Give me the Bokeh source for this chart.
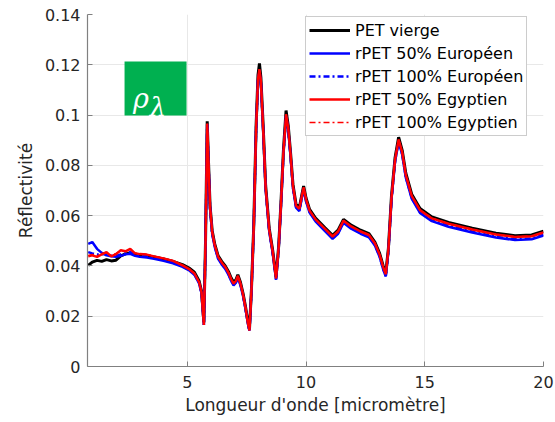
from bokeh.plotting import figure
from bokeh.models import Range1d, FixedTicker, BoxAnnotation, Label
from bokeh.embed import file_html
from bokeh.resources import INLINE

wavelength = [0.83, 1.0, 1.2, 1.4, 1.6, 1.8, 2.0, 2.2, 2.4, 2.6,
              2.8, 3.0, 3.3, 3.6, 4.0, 4.4, 4.8, 5.1, 5.3, 5.5,
              5.6, 5.7, 5.77, 5.84, 5.9, 5.96, 6.05, 6.15, 6.3, 6.45,
              6.6, 6.75, 6.85, 6.95, 7.05, 7.13, 7.24, 7.35, 7.45, 7.55,
              7.62, 7.7, 7.8, 7.9, 7.98, 8.04, 8.1, 8.2, 8.3, 8.45,
              8.6, 8.74, 8.85, 8.95, 9.05, 9.16, 9.25, 9.35, 9.45, 9.58,
              9.72, 9.82, 9.9, 10.0, 10.15, 10.4, 10.8, 11.12, 11.35, 11.58,
              11.9, 12.3, 12.65, 12.9, 13.1, 13.25, 13.36, 13.47, 13.6, 13.75,
              13.9, 14.05, 14.2, 14.45, 14.8, 15.3, 16.0, 17.0, 18.0, 18.8,
              19.5, 20.0]

pet_vierge = [0.0402, 0.0415, 0.0422, 0.0418, 0.0425, 0.0420, 0.0423, 0.0440, 0.0448, 0.0452,
              0.0445, 0.0442, 0.0440, 0.0436, 0.0428, 0.0418, 0.0405, 0.0390, 0.0375, 0.0340,
              0.0300, 0.0175, 0.0500, 0.0975, 0.0800, 0.0640, 0.0540, 0.0490, 0.0440, 0.0418,
              0.0400, 0.0375, 0.0352, 0.0335, 0.0345, 0.0365, 0.0335, 0.0290, 0.0240, 0.0180,
              0.0148, 0.0300, 0.0560, 0.0960, 0.1160, 0.1205, 0.1150, 0.0950, 0.0720, 0.0550,
              0.0460, 0.0355, 0.0480, 0.0660, 0.0860, 0.1018, 0.0960, 0.0850, 0.0725, 0.0645,
              0.0632, 0.0680, 0.0718, 0.0670, 0.0625, 0.0590, 0.0552, 0.0522, 0.0542, 0.0585,
              0.0562, 0.0542, 0.0528, 0.0495, 0.0450, 0.0400, 0.0372, 0.0470, 0.0680, 0.0830,
              0.0912, 0.0860, 0.0770, 0.0685, 0.0628, 0.0595, 0.0573, 0.0550, 0.0530, 0.0520,
              0.0523, 0.0538]

rpet50_eu = [0.0488, 0.0495, 0.0468, 0.0452, 0.0442, 0.0438, 0.0436, 0.0440, 0.0446, 0.0448,
             0.0440, 0.0436, 0.0433, 0.0428, 0.0420, 0.0410, 0.0396, 0.0381, 0.0365, 0.0330,
             0.0292, 0.0165, 0.0490, 0.0962, 0.0790, 0.0628, 0.0528, 0.0478, 0.0428, 0.0406,
             0.0388, 0.0362, 0.0340, 0.0322, 0.0333, 0.0353, 0.0323, 0.0280, 0.0230, 0.0172,
             0.0142, 0.0292, 0.0550, 0.0945, 0.1138, 0.1175, 0.1128, 0.0932, 0.0705, 0.0538,
             0.0448, 0.0345, 0.0470, 0.0648, 0.0842, 0.0995, 0.0942, 0.0835, 0.0710, 0.0632,
             0.0618, 0.0668, 0.0705, 0.0657, 0.0612, 0.0577, 0.0538, 0.0508, 0.0528, 0.0572,
             0.0548, 0.0528, 0.0514, 0.0481, 0.0436, 0.0386, 0.0358, 0.0458, 0.0665, 0.0815,
             0.0895, 0.0842, 0.0752, 0.0668, 0.0611, 0.0578, 0.0556, 0.0533, 0.0513, 0.0503,
             0.0506, 0.0521]

rpet100_eu = [0.0455, 0.0450, 0.0445, 0.0446, 0.0448, 0.0440, 0.0440, 0.0446, 0.0450, 0.0455,
              0.0444, 0.0440, 0.0438, 0.0432, 0.0424, 0.0414, 0.0399, 0.0383, 0.0367, 0.0332,
              0.0293, 0.0165, 0.0492, 0.0963, 0.0792, 0.0630, 0.0530, 0.0480, 0.0431, 0.0409,
              0.0391, 0.0365, 0.0343, 0.0325, 0.0336, 0.0356, 0.0326, 0.0282, 0.0232, 0.0173,
              0.0142, 0.0293, 0.0552, 0.0947, 0.1140, 0.1178, 0.1130, 0.0935, 0.0708, 0.0541,
              0.0451, 0.0347, 0.0472, 0.0651, 0.0845, 0.0998, 0.0945, 0.0838, 0.0713, 0.0635,
              0.0621, 0.0671, 0.0708, 0.0660, 0.0615, 0.0580, 0.0541, 0.0511, 0.0531, 0.0575,
              0.0551, 0.0531, 0.0517, 0.0484, 0.0439, 0.0389, 0.0361, 0.0460, 0.0667, 0.0817,
              0.0897, 0.0845, 0.0755, 0.0671, 0.0614, 0.0581, 0.0560, 0.0537, 0.0516, 0.0506,
              0.0509, 0.0524]

rpet50_eg = [0.0438, 0.0442, 0.0436, 0.0446, 0.0455, 0.0438, 0.0447, 0.0462, 0.0458, 0.0468,
             0.0450, 0.0447, 0.0445, 0.0438, 0.0430, 0.0420, 0.0402, 0.0386, 0.0370, 0.0335,
             0.0295, 0.0165, 0.0495, 0.0965, 0.0795, 0.0635, 0.0535, 0.0485, 0.0436, 0.0414,
             0.0396, 0.0370, 0.0347, 0.0330, 0.0340, 0.0360, 0.0330, 0.0285, 0.0235, 0.0175,
             0.0143, 0.0295, 0.0555, 0.0950, 0.1145, 0.1182, 0.1135, 0.0940, 0.0712, 0.0545,
             0.0455, 0.0350, 0.0475, 0.0655, 0.0850, 0.1002, 0.0950, 0.0842, 0.0718, 0.0640,
             0.0627, 0.0675, 0.0712, 0.0665, 0.0620, 0.0585, 0.0547, 0.0517, 0.0537, 0.0580,
             0.0557, 0.0537, 0.0523, 0.0490, 0.0445, 0.0395, 0.0367, 0.0465, 0.0672, 0.0822,
             0.0902, 0.0852, 0.0762, 0.0679, 0.0622, 0.0589, 0.0568, 0.0545, 0.0525, 0.0515,
             0.0518, 0.0533]

rpet100_eg = [0.0442, 0.0446, 0.0440, 0.0449, 0.0452, 0.0441, 0.0450, 0.0460, 0.0461, 0.0466,
              0.0451, 0.0448, 0.0446, 0.0439, 0.0431, 0.0421, 0.0403, 0.0387, 0.0371, 0.0336,
              0.0296, 0.0166, 0.0496, 0.0966, 0.0796, 0.0636, 0.0536, 0.0486, 0.0437, 0.0415,
              0.0397, 0.0371, 0.0348, 0.0331, 0.0341, 0.0361, 0.0331, 0.0286, 0.0236, 0.0176,
              0.0144, 0.0296, 0.0556, 0.0951, 0.1147, 0.1184, 0.1137, 0.0941, 0.0713, 0.0546,
              0.0456, 0.0351, 0.0476, 0.0656, 0.0851, 0.1004, 0.0951, 0.0843, 0.0719, 0.0641,
              0.0628, 0.0676, 0.0713, 0.0666, 0.0621, 0.0586, 0.0548, 0.0518, 0.0538, 0.0581,
              0.0558, 0.0538, 0.0524, 0.0491, 0.0446, 0.0396, 0.0368, 0.0466, 0.0673, 0.0823,
              0.0903, 0.0853, 0.0763, 0.0680, 0.0623, 0.0590, 0.0569, 0.0546, 0.0526, 0.0516,
              0.0519, 0.0534]

x_ticks = [5, 10, 15, 20]
y_ticks = [0, 0.02, 0.04, 0.06, 0.08, 0.1, 0.12, 0.14]
y_tick_labels = ["0", "0.02", "0.04", "0.06", "0.08", "0.1", "0.12", "0.14"]

FONT = "DejaVu Sans"

p = figure(width=555, height=422, output_backend="svg", toolbar_location=None,
           x_range=Range1d(0.8, 20), y_range=Range1d(0, 0.14),
           min_border_left=87, min_border_right=12, min_border_top=14, min_border_bottom=56)
p.outline_line_color = None
p.background_fill_color = "white"
p.border_fill_color = "white"

p.line(wavelength, pet_vierge, color="black", line_width=3, legend_label="PET vierge")
p.line(wavelength, rpet50_eu, color="#0000ff", line_width=2.5, legend_label="rPET 50% Européen")
p.line(wavelength, rpet100_eu, color="#0000ff", line_width=2.5, line_dash="6 3 2 3",
       legend_label="rPET 100% Européen")
p.line(wavelength, rpet50_eg, color="#ff0000", line_width=2.5, legend_label="rPET 50% Egyptien")
p.line(wavelength, rpet100_eg, color="#ff0000", line_width=1.5, line_dash="6 3 2 3",
       legend_label="rPET 100% Egyptien")

for ax in (p.xaxis[0], p.yaxis[0]):
    ax.axis_line_color = "#808080"
    ax.axis_line_width = 1.2
    ax.major_tick_line_color = "#808080"
    ax.major_tick_in = 5
    ax.major_tick_out = 0
    ax.minor_tick_line_color = None
    ax.major_label_text_font = FONT
    ax.major_label_text_font_size = "16px"
    ax.major_label_text_color = "#262626"
    ax.axis_label_text_font = FONT
    ax.axis_label_text_font_size = "17px"
    ax.axis_label_text_font_style = "normal"
    ax.axis_label_text_color = "#262626"

p.xaxis.ticker = FixedTicker(ticks=x_ticks)
p.yaxis.ticker = FixedTicker(ticks=y_ticks)
p.yaxis.major_label_overrides = {t: l for t, l in zip(y_ticks, y_tick_labels)}
p.xaxis.axis_label = "Longueur d'onde [micromètre]"
p.yaxis.axis_label = "Réflectivité"
p.xaxis.major_label_standoff = 9
p.xaxis.axis_label_standoff = 4
p.yaxis.major_label_standoff = 7
p.yaxis.axis_label_standoff = 6

p.xgrid.grid_line_color = "#e8e8e8"
p.ygrid.grid_line_color = "#e8e8e8"
p.xgrid.ticker = FixedTicker(ticks=x_ticks)
p.ygrid.ticker = FixedTicker(ticks=y_ticks)

lg = p.legend[0]
lg.location = (218, 230)
lg.margin = 0
lg.padding = 3
lg.spacing = 3
lg.glyph_height = 20
lg.glyph_width = 41
lg.label_height = 20
lg.label_standoff = 5
lg.label_text_font = FONT
lg.label_text_font_size = "16px"
lg.label_text_color = "#000000"
lg.border_line_color = "#9a9a9a"
lg.border_line_width = 1
lg.background_fill_color = "white"
lg.background_fill_alpha = 1

p.add_layout(BoxAnnotation(left=2.36, right=4.97, bottom=0.0998, top=0.1213,
                           fill_color="#00b050", fill_alpha=1, line_color=None))
p.add_layout(Label(x=2.72, y=0.1065, text="ρ", text_font="DejaVu Serif",
                   text_font_style="italic", text_color="white", text_font_size="27px",
                   text_baseline="alphabetic"))
p.add_layout(Label(x=3.42, y=0.1032, text="λ", text_font="DejaVu Serif",
                   text_font_style="italic", text_color="white", text_font_size="26px",
                   text_baseline="alphabetic"))

open("out.html", "w").write(file_html(p, INLINE))
